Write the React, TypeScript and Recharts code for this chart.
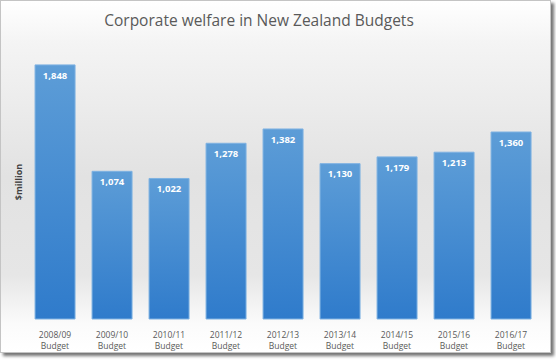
import React from 'react';
import { BarChart, Bar, XAxis, YAxis, LabelList } from 'recharts';

const years = ['2008/09', '2009/10', '2010/11', '2011/12', '2012/13', '2013/14', '2014/15', '2015/16', '2016/17'];
const welfare = [1848, 1074, 1022, 1278, 1382, 1130, 1179, 1213, 1360];
const yTicks = [0, 500, 1000, 1500, 2000];

const data = years.map((y, i) => ({ year: y, value: welfare[i] }));

const fontFamily = '"Open Sans", "Noto Sans", sans-serif';

function BudgetTick(props: any) {
  const { x, y, payload } = props;
  return (
    <g>
      <text x={x} y={y + 10.5} textAnchor="middle" fill="#595959" fontSize={8.5} fontFamily={fontFamily}>
        {payload.value}
      </text>
      <text x={x} y={y + 22} textAnchor="middle" fill="#595959" fontSize={8.5} fontFamily={fontFamily}>
        Budget
      </text>
    </g>
  );
}

const fmt = (v: any) => Number(v).toLocaleString('en-US');

export default function App() {
  return (
    <div style={{ position: 'absolute', left: 0, top: 0, width: 556, height: 360 }}>
      <div
        style={{
          position: 'absolute', left: 0, top: 0, width: 549, height: 351,
          border: '1px solid #c4c4c4',
          background: 'linear-gradient(to bottom, #ffffff 0%, #f4f4f4 12%, #e2e2e2 50%, #e6e6e6 78%, #fbfbfb 92%, #ffffff 100%)',
          boxShadow: '3px 3px 3px rgba(0,0,0,0.55)'
        }}
      />
      <div
        style={{
          position: 'absolute', left: 0, top: 9, width: 518, textAlign: 'center',
          fontFamily, fontSize: 15.5, color: '#595959'
        }}
      >
        Corporate welfare in New Zealand Budgets
      </div>
      <div
        style={{
          position: 'absolute', left: 18, top: 182, transform: 'translate(-50%, -50%) rotate(-90deg)',
          fontFamily, fontSize: 9, fontWeight: 'bold', color: '#404040', whiteSpace: 'nowrap'
        }}
      >
        $million
      </div>
      <div style={{ position: 'absolute', left: 0, top: 0 }}>
        <BarChart width={556} height={360} data={data} margin={{ top: 44, right: 16.5, bottom: 0, left: 26.5 }} barCategoryGap="15%">
          <defs>
            <linearGradient id="barFill" x1="0" y1="0" x2="0" y2="1">
              <stop offset="0%" stopColor="#5d9dd7" />
              <stop offset="100%" stopColor="#2f7bcb" />
            </linearGradient>
          </defs>
          <XAxis dataKey="year" height={41} axisLine={false} tickLine={false} tick={<BudgetTick />} interval={0} />
          <YAxis hide domain={[0, 2000]} ticks={yTicks} width={0} />
          <Bar dataKey="value" fill="url(#barFill)" stroke="#7fb2e2" strokeWidth={1} isAnimationActive={false}>
            <LabelList dataKey="value" position="insideTop" offset={7} formatter={fmt} fill="#ffffff" fontSize={9.5} fontWeight="bold" fontFamily={fontFamily} />
          </Bar>
        </BarChart>
      </div>
    </div>
  );
}
